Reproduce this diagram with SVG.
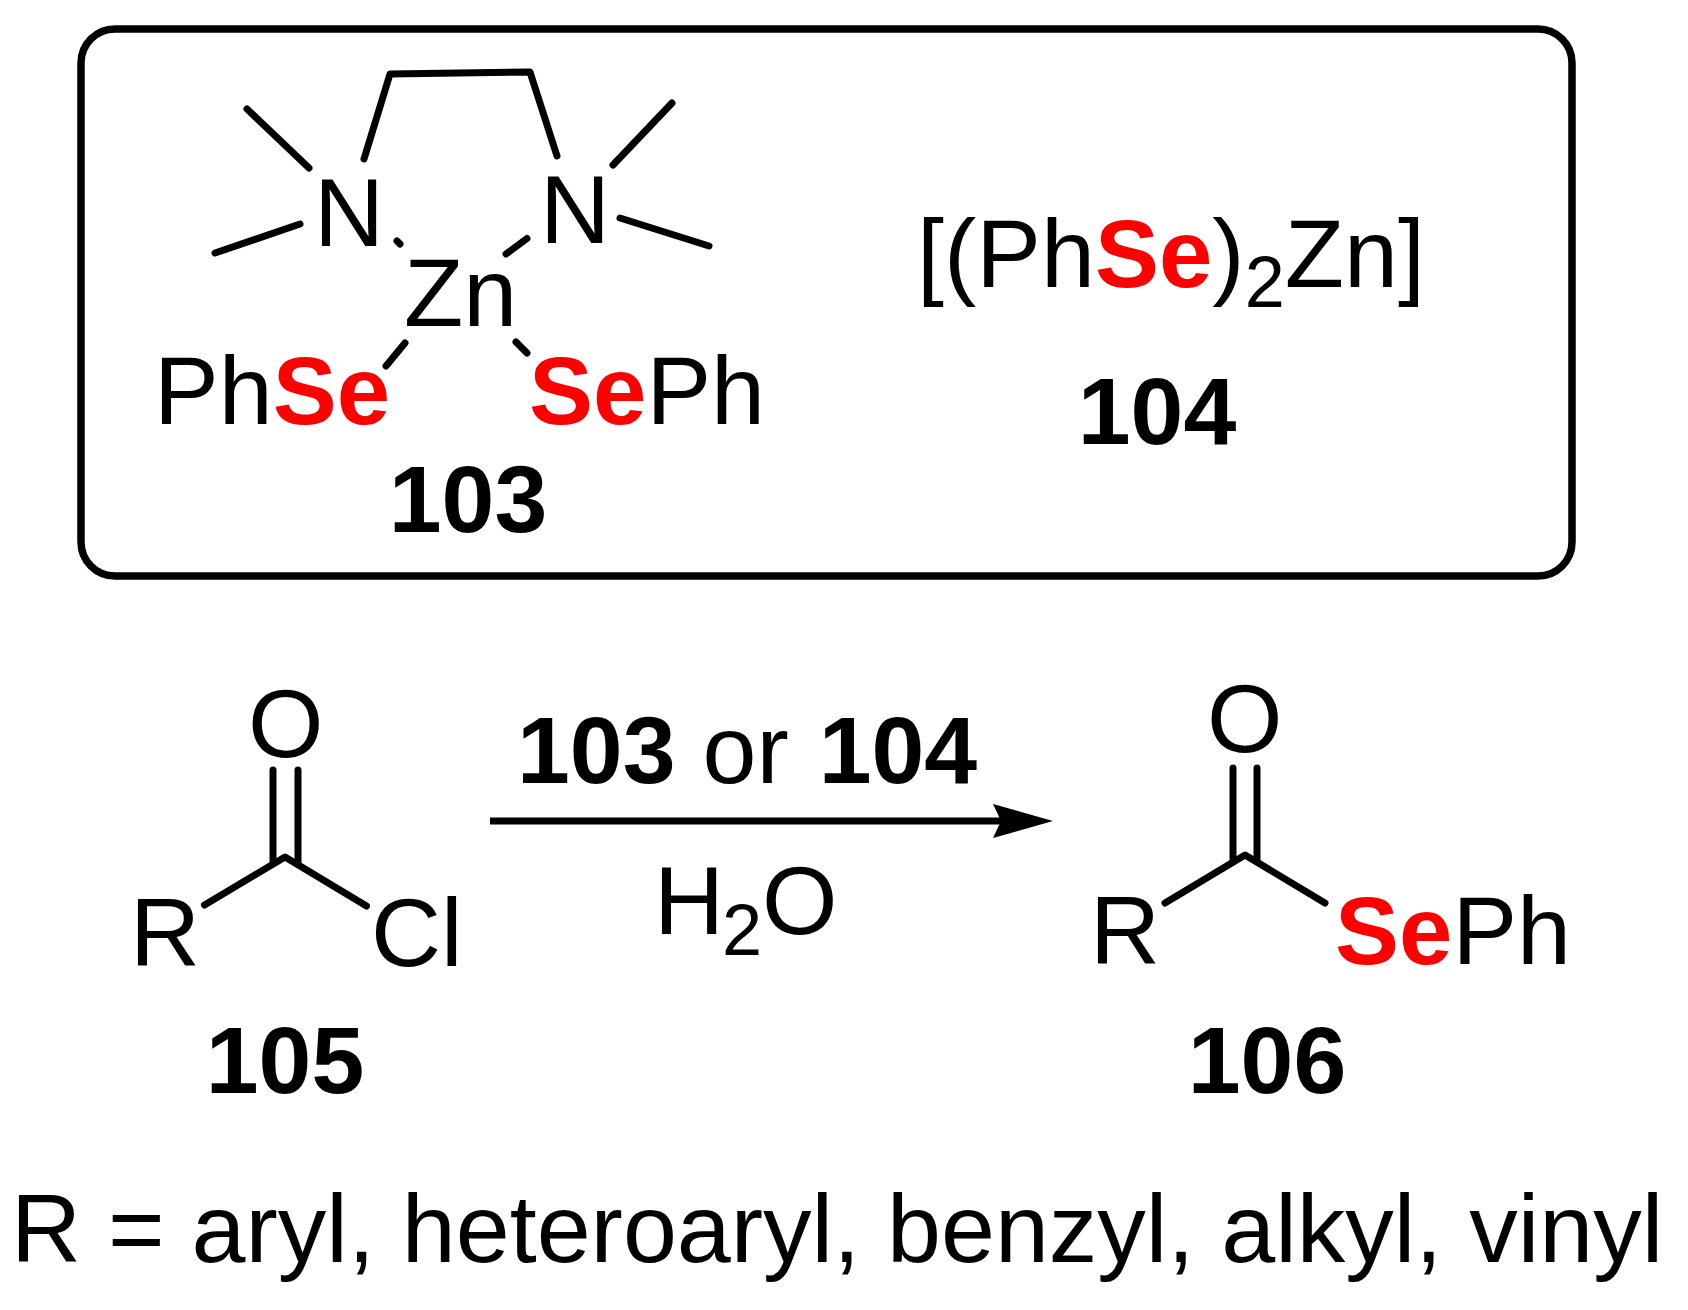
<svg xmlns="http://www.w3.org/2000/svg" width="1688" height="1310" viewBox="0 0 1688 1310">
<style>
text{font-family:"Liberation Sans",Arial,sans-serif;font-size:97px;fill:#000}
.b{font-weight:bold;font-size:95px}
.se{font-weight:bold;fill:#f00;font-size:96px}
.sub{font-size:72px}
.bond{fill:none;stroke:#000;stroke-width:7;stroke-linecap:round;stroke-linejoin:round}
</style>
<defs>
<marker id="head" markerUnits="userSpaceOnUse" markerWidth="62" markerHeight="36" refX="8" refY="18" orient="auto">
<path d="M0 1L60 18L0 35L8 18Z" fill="#000"/>
</marker>
</defs>
<rect width="1688" height="1310" fill="#fff"/>
<rect id="frame" x="81" y="29" width="1491" height="547" rx="34" ry="34" fill="none" stroke="#000" stroke-width="7.5"/>
<g id="connectors">
<path class="bond" d="M364 159L390 74L530 72L557 156"/>
<path class="bond" d="M247 109L309 168"/>
<path class="bond" d="M215 253L300 224"/>
<path class="bond" d="M672 103L613 165"/>
<path class="bond" d="M620 218L709 246"/>
<path class="bond" d="M397 241L400 244"/>
<path class="bond" d="M506 254L527 238.5"/>
<path class="bond" d="M405 343L386 366"/>
<path class="bond" d="M516 342L527 353"/>
<path class="bond" d="M273 770V862M298 770V862"/>
<path class="bond" d="M204.5 905L285 857L366.5 906"/>
<path class="bond" d="M1233 768V860M1257 768V860"/>
<path class="bond" d="M1165 903L1245 855L1325 903"/>
<path d="M490 821H1001" fill="none" stroke="#000" stroke-width="7" marker-end="url(#head)"/>
</g>
<g id="compound-103">
<text x="314" y="246">N</text>
<text x="540" y="243">N</text>
<text x="404" y="326">Zn</text>
<text x="154" y="424">Ph<tspan class="se">Se</tspan></text>
<text x="529" y="424"><tspan class="se">Se</tspan>Ph</text>
<text class="b" x="468" y="532" text-anchor="middle">103</text>
</g>
<g id="compound-104">
<text x="917" y="287">[(Ph<tspan class="se">Se</tspan>)<tspan class="sub" y="307">2</tspan><tspan y="287">Zn]</tspan></text>
<text class="b" x="1157" y="444" text-anchor="middle">104</text>
</g>
<g id="compound-105">
<text x="248" y="757">O</text>
<text x="130" y="966">R</text>
<text x="371" y="966">Cl</text>
<text class="b" x="285" y="1093" text-anchor="middle">105</text>
</g>
<g id="conditions">
<text x="517" y="783"><tspan class="b">103</tspan> or <tspan class="b" dx="3">104</tspan></text>
<text x="654" y="934">H<tspan class="sub" y="955" dx="-2">2</tspan><tspan y="934">O</tspan></text>
</g>
<g id="compound-106">
<text x="1207" y="752">O</text>
<text x="1090" y="964">R</text>
<text x="1335" y="964"><tspan class="se">Se</tspan>Ph</text>
<text class="b" x="1267" y="1093" text-anchor="middle">106</text>
</g>
<g id="r-groups">
<text x="11" y="1262">R = aryl, heteroaryl, benzyl, alkyl, vinyl</text>
</g>
</svg>
